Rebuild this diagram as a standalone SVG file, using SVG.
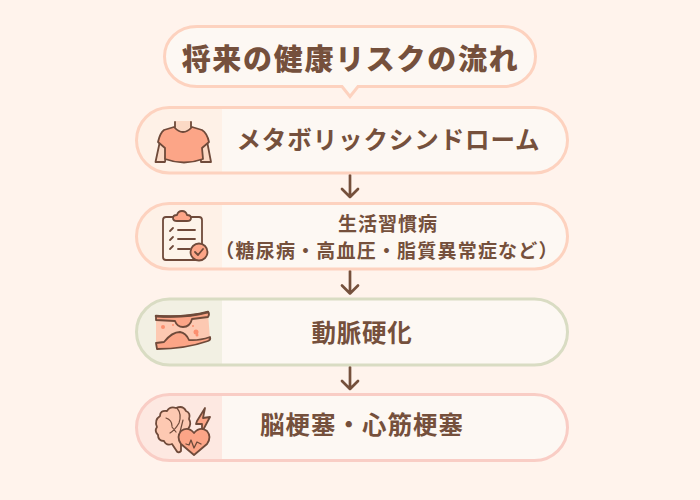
<svg xmlns="http://www.w3.org/2000/svg" width="700" height="500" viewBox="0 0 700 500">
<style>
text{font-family:"Noto Sans CJK JP","Noto Sans",sans-serif;font-weight:700;fill:#75503c;text-anchor:middle}
.ln{fill:none;stroke:#6f4a3a;stroke-width:1.8;stroke-linecap:round;stroke-linejoin:round}
.ic{stroke:#6f4a3a;stroke-width:1.800;stroke-linecap:round;stroke-linejoin:round}
.ar{fill:none;stroke:#75503c;stroke-width:2.700;stroke-linecap:round;stroke-linejoin:round}
.body{fill:#fdf8f3}
.out{fill:none;stroke-width:3}
</style>
<defs>
<clipPath id="c1"><rect x="136.500" y="107.500" width="431" height="65.500" rx="32.700"/></clipPath>
<clipPath id="c2"><rect x="136.500" y="203.500" width="431" height="65.500" rx="32.700"/></clipPath>
<clipPath id="c3"><rect x="136.500" y="299" width="431" height="66" rx="33"/></clipPath>
<clipPath id="c4"><rect x="136.500" y="394.500" width="431" height="66" rx="33"/></clipPath>
</defs>
<rect width="700" height="500" fill="#fff3ec"/>
<g id="title">
<path d="M197 26.500H503C522 26.500 535.500 40 535.500 56.500S522 86.500 503 86.500H358L350 96.500L342 86.500H197C178 86.500 164.500 73 164.500 56.500S178 26.500 197 26.500Z" fill="#fdf8f3" stroke="#fdd2bf" stroke-width="3"/>
<text x="350.500" y="70" font-size="29" letter-spacing="1.700" style="font-weight:900">将来の健康リスクの流れ</text>
</g>
<g id="connectors">
<path class="ar" d="M350 175V197M342 189L350 197L358 189"/>
<path class="ar" d="M350 271V293.500M342 285.500L350 293.500L358 285.500"/>
<path class="ar" d="M350 367V389M342 381L350 389L358 381"/>
</g>
<g id="node1">
<rect class="body" x="136.500" y="107.500" width="431" height="65.500" rx="32.700"/>
<rect x="136" y="107" width="86" height="66" fill="#fef1e7" clip-path="url(#c1)"/>
<rect class="out" x="136.500" y="107.500" width="431" height="65.500" rx="32.700" stroke="#fdd2bf"/>
<path class="ic" fill="#fbd9c5" d="M160 141L155.500 162H165L167 146Z"/>
<path class="ic" fill="#fbd9c5" d="M207 141L211 162H201L200 146Z"/>
<path fill="#fbd9c5" d="M175 121H191V130Q183 136 175 130Z"/>
<path class="ln" d="M175 122V127M191 122V127"/>
<path class="ic" fill="#fca587" d="M174 127Q183 137 192 127L202 130Q207 133 209 142L202 148L203 159Q184 166 165 159L165 148L158 142Q160 133 164 130Z"/>
<text x="388.500" y="149" font-size="24.500" letter-spacing="0.900">メタボリックシンドローム</text>
</g>
<g id="node2">
<rect class="body" x="136.500" y="203.500" width="431" height="65.500" rx="32.700"/>
<rect x="136" y="203" width="86" height="66" fill="#fef1e7" clip-path="url(#c2)"/>
<rect class="out" x="136.500" y="203.500" width="431" height="65.500" rx="32.700" stroke="#fdd2bf"/>
<rect class="ic" x="163" y="217" width="39" height="43" rx="3" fill="#fdf4ea"/>
<path class="ic" fill="#fca587" d="M173 218Q173 215 177 215Q178 211 182 211Q186 211 187 215Q191 215 191 218Q191 221 187 221H177Q173 221 173 218Z"/>
<path class="ln" d="M170 231L173 228M178 230H195M170 240L173 237M178 239H195M170 249L173 246M178 249H190"/>
<circle class="ic" cx="199" cy="252" r="8.500" fill="#fca587"/>
<path class="ln" d="M195 252L198 255L203 249"/>
<text x="388" y="231" font-size="19" letter-spacing="1">生活習慣病</text>
<text x="387" y="258" font-size="19" letter-spacing="1.200">（糖尿病・高血圧・脂質異常症など）</text>
</g>
<g id="node3">
<rect class="body" x="136.500" y="299" width="431" height="66" rx="33"/>
<rect x="136" y="298" width="86" height="68" fill="#f2f0e3" clip-path="url(#c3)"/>
<rect class="out" x="136.500" y="299" width="431" height="66" rx="33" stroke="#d9dcc3"/>
<path d="M156 318Q185 320 208 313L210 339Q185 344 156 345Z" fill="#fdc9b2"/>
<path class="ic" fill="#fca587" d="M156 316Q186 318 208 312Q210 314 208 317L192 319Q190 327 183 327Q177 327 175 321L156 320Z"/>
<path class="ln" style="stroke-width:2.500" d="M156 316Q186 318 208 312"/>
<path class="ic" fill="#fca587" d="M156 343L164 342Q172 332 180 332Q186 333 189 340Q198 341 210 337Q211 340 208 341Q185 349 157 349Z"/>
<circle cx="163" cy="327" r="2" fill="#fc8f6f"/><circle cx="173" cy="325" r="1" fill="#fc8f6f"/><circle cx="193" cy="326" r="1" fill="#fc8f6f"/><circle cx="196" cy="332" r="2.500" fill="#fc8f6f"/><circle cx="197" cy="335" r="1.500" fill="#fc8f6f"/>
<text x="362" y="342" font-size="24.500" letter-spacing="0.800">動脈硬化</text>
</g>
<g id="node4">
<rect class="body" x="136.500" y="394.500" width="431" height="66" rx="33"/>
<rect x="136" y="394" width="86" height="67" fill="#fde8e1" clip-path="url(#c4)"/>
<rect class="out" x="136.500" y="394.500" width="431" height="66" rx="33" stroke="#f9cdc5"/>
<path class="ic" fill="#fdc9b2" d="M160 416Q160 410 167 411Q170 406 176 408Q183 405 186 411Q191 413 189 419Q192 424 188 429L181 440L181 451Q178 454 176 450L172 444Q166 446 164 441Q158 441 158 435Q154 431 157 427Q154 420 160 416Z"/>
<path class="ln" style="stroke-width:1.200" d="M177 408Q182 414 179 423Q175 430 170 433M172 427L176 432M183 420L180 432M166 418Q172 420 172 426"/>
<path class="ic" fill="#fca587" d="M197 421L205 408L203 418L210 417L202 432L202 424L196 424Z"/>
<path class="ic" fill="#fca587" d="M194 455L181 444Q176 437 181 431Q188 426 194 433Q200 426 207 431Q212 437 207 444Z"/>
<path class="ln" style="stroke-width:1.300" d="M186 444L189 445L191 440L194 448L197 442L201 444"/>
<text x="362" y="434" font-size="24.500" letter-spacing="1">脳梗塞・心筋梗塞</text>
</g>
</svg>
